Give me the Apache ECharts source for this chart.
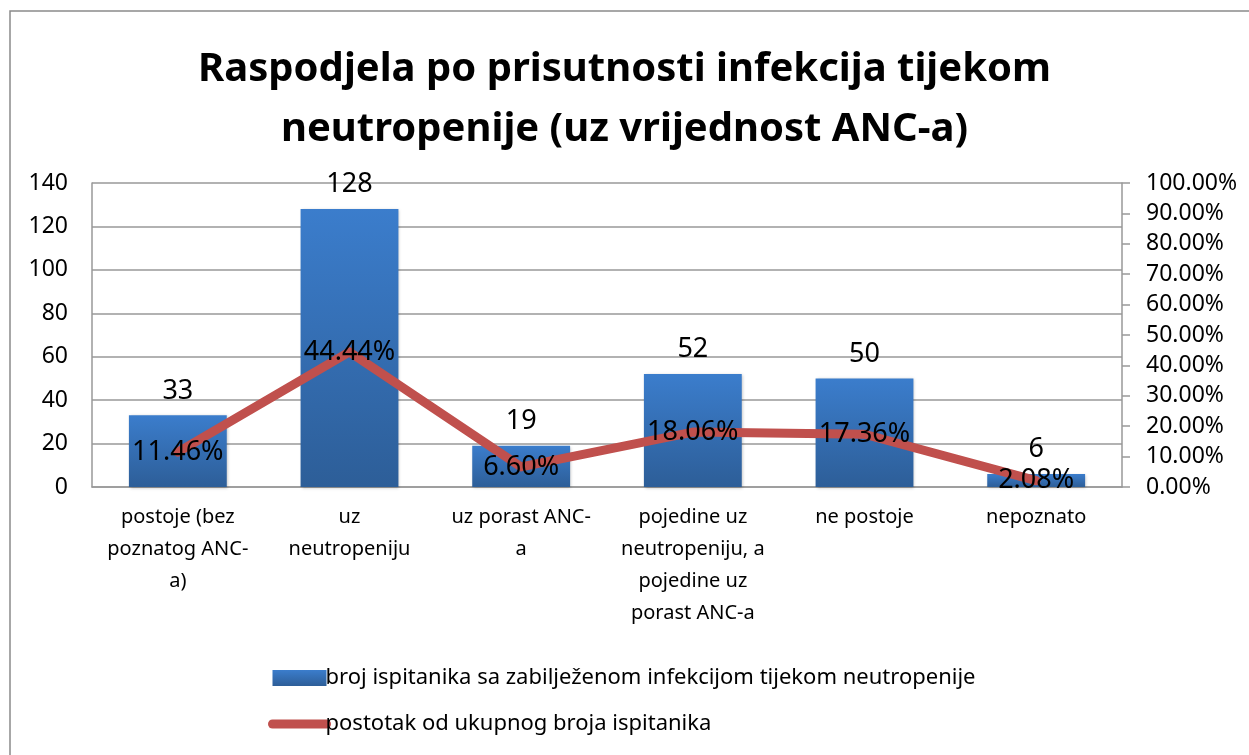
<!DOCTYPE html>
<html>
<head>
<meta charset="utf-8">
<script src="https://cdn.jsdelivr.net/npm/echarts@6/dist/echarts.min.js"></script>
<style>
  html, body { margin: 0; padding: 0; background: #fff; }
  #chart { width: 1249px; height: 755px; }
</style>
</head>
<body>
<div id="chart"></div>
<script>
const categories = [
  'postoje (bez\npoznatog ANC-\na)',
  'uz\nneutropeniju',
  'uz porast ANC-\na',
  'pojedine uz\nneutropeniju, a\npojedine uz\nporast ANC-a',
  'ne postoje',
  'nepoznato'
]
const counts = [33, 128, 19, 52, 50, 6]
const percents = [11.46, 44.44, 6.60, 18.06, 17.36, 2.08]
const barName = 'broj ispitanika sa zabilježenom infekcijom tijekom neutropenije'
const lineName = 'postotak od ukupnog broja ispitanika'

const font = '"Noto Sans", "Open Sans", sans-serif'
const chart = echarts.init(document.getElementById('chart'))

const option = {
  animation: false,
  textStyle: { fontFamily: font },
  title: {
    text: 'Raspodjela po prisutnosti infekcija tijekom\nneutropenije (uz vrijednost ANC-a)',
    left: 'center',
    top: 35,
    textStyle: { fontSize: 40, fontWeight: 'bold', color: '#000', lineHeight: 60, fontFamily: font }
  },
  graphic: [{
    type: 'rect',
    shape: { x: 10, y: 11, width: 1280, height: 800 },
    style: { fill: 'none', stroke: '#8a8a8a', lineWidth: 1.5 },
    silent: true
  }],
  legend: {
    orient: 'vertical',
    left: 268,
    top: 667,
    padding: 0,
    itemGap: 24,
    itemWidth: 54,
    itemHeight: 16,
    textStyle: { fontSize: 22, color: '#000', padding: [0, 0, 0, -6] },
    data: [
      { name: barName, icon: 'rect' },
      { name: lineName, lineStyle: { width: 9, cap: 'round' } }
    ]
  },
  grid: { left: 92, right: 127, top: 183, bottom: 268 },
  xAxis: {
    type: 'category',
    data: categories,
    axisTick: { show: false },
    axisLine: { lineStyle: { color: '#999', width: 1.5 } },
    axisLabel: { interval: 0, fontSize: 20, color: '#000', lineHeight: 32, margin: 14 }
  },
  yAxis: [
    {
      type: 'value',
      min: 0,
      max: 140,
      interval: 20,
      axisLine: { show: true, lineStyle: { color: '#999', width: 1.5 } },
      axisTick: { show: false },
      splitLine: { lineStyle: { color: '#999', width: 1.5 } },
      axisLabel: { fontSize: 23, color: '#000', margin: 24 }
    },
    {
      type: 'value',
      min: 0,
      max: 100,
      interval: 10,
      axisLine: { show: true, lineStyle: { color: '#999', width: 1.5 } },
      axisTick: { show: true, length: 8, lineStyle: { color: '#999', width: 1.5 } },
      splitLine: { show: false },
      axisLabel: {
        fontSize: 23,
        color: '#000',
        margin: 24,
        formatter: (v) => v.toFixed(2) + '%'
      }
    }
  ],
  series: [
    {
      name: barName,
      type: 'bar',
      data: counts,
      barWidth: '57%',
      itemStyle: {
        color: new echarts.graphic.LinearGradient(0, 0, 0, 1, [
          { offset: 0, color: '#3b7dcc' },
          { offset: 1, color: '#2d5e98' }
        ]),
        shadowColor: 'rgba(0,0,0,0.25)',
        shadowBlur: 3,
        shadowOffsetX: 1,
        shadowOffsetY: 1
      },
      label: { show: true, position: 'top', distance: 11, fontSize: 27, color: '#000' }
    },
    {
      name: lineName,
      type: 'line',
      yAxisIndex: 1,
      data: percents,
      symbol: 'circle',
      symbolSize: 1,
      itemStyle: { color: '#c0504d', opacity: 0 },
      lineStyle: { color: '#c0504d', width: 9, cap: 'round', join: 'round' },
      label: {
        show: true,
        position: 'inside',
        fontSize: 27,
        color: '#000',
        opacity: 1,
        formatter: (p) => p.value.toFixed(2) + '%'
      },
      z: 3
    }
  ]
}

chart.setOption(option)
</script>
</body>
</html>
